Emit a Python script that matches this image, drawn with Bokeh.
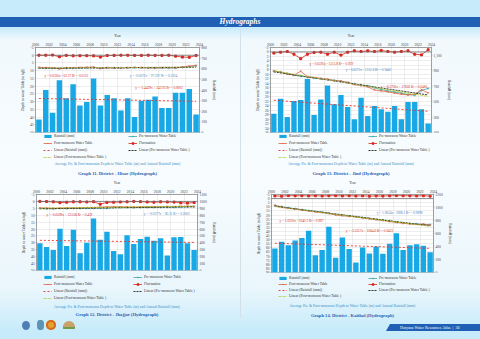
import numpy as np
from bokeh.plotting import figure
from bokeh.layouts import column, row
from bokeh.models import (Range1d, LinearAxis, FixedTicker, NumeralTickFormatter,
                          Legend, LegendItem, Label, Span, Div)
from bokeh.embed import file_html
from bokeh.resources import INLINE

# ---------------- data ----------------
years = list(range(2000, 2024))
year_ticks = [2000, 2002, 2004, 2006, 2008, 2010, 2012, 2014, 2016, 2018, 2020, 2022, 2024]

# Graph 11 - Hisar
hisar_rain = [123, 400, 185, 492, 323, 455, 255, 286, 508, 255, 354, 323,
              206, 323, 145, 298, 308, 338, 231, 231, 375, 375, 409, 169]
hisar_pre = [8.2, 8.3, 8.4, 8.6, 8.3, 8.4, 8.2, 8.1, 8.0, 8.3, 8.1, 8.2,
             8.2, 8.1, 8.0, 8.1, 8.2, 8.3, 8.2, 8.3, 8.2, 7.9, 7.4, 6.8]
hisar_post = [7.8, 8.0, 8.1, 8.8, 8.2, 8.0, 7.9, 7.8, 7.6, 8.6, 8.0, 8.1,
              8.2, 8.0, 7.9, 8.0, 8.2, 8.2, 8.1, 8.0, 8.2, 7.6, 7.0, 6.6]
hisar_fluct = [0.0, 0.0, -0.1, 1.0, 0.1, 0.4, 0.3, 0.3, 0.4, 1.2, 0.2, 0.1,
               0.0, 0.0, 0.1, 0.1, 0.0, 0.1, 0.1, 0.0, 0.6, 1.2, 1.3, 0.2]
hisar_depth_ticks = [-5, 0, 5, 10, 15, 20, 25, 30, 35, 40, 45, 50]
hisar_rain_ticks = [0, 100, 200, 300, 400, 500, 600, 700, 800]

# Graph 13 - Jind
jind_rain = [344, 537, 301, 507, 520, 793, 327, 528, 708, 464, 584, 430,
             271, 549, 314, 442, 400, 370, 442, 271, 494, 494, 400, 216]
jind_pre = [8.6, 9.0, 9.6, 10.3, 10.8, 11.2, 11.6, 12.0, 12.3, 12.7, 13.1, 13.7,
            14.3, 14.8, 15.2, 16.0, 16.8, 17.4, 17.9, 18.4, 19.0, 19.3, 17.2, 16.3]
jind_post = [8.4, 9.0, 9.8, 10.4, 8.6, 11.0, 11.4, 11.8, 12.2, 12.8, 13.0, 13.6,
             14.6, 15.0, 15.6, 17.0, 17.4, 17.8, 18.4, 18.9, 19.2, 19.0, 16.8, 18.3]
jind_fluct = [0.5, 0.1, -0.2, 1.0, 3.0, 1.0, 0.2, 0.1, 1.0, 0.1, 1.4, 0.1,
              -0.5, -0.2, -0.5, -0.2, -0.7, -0.2, 0.1, -0.2, -0.5, 1.0, 1.3, -1.0]
jind_depth_ticks = [-2, 0, 2, 4, 6, 8, 10, 12, 14, 16, 18, 20, 22, 24, 26, 28, 30, 32, 34, 36]
jind_rain_ticks = [100, 300, 500, 700, 900, 1100]

# Graph 12 - Jhajjar
jhajjar_rain = [395, 341, 295, 605, 355, 590, 250, 400, 753, 445, 560, 282,
                236, 510, 382, 455, 490, 432, 468, 218, 482, 486, 395, 295]
jhajjar_pre = [5.0, 5.2, 5.3, 5.1, 5.2, 5.0, 5.1, 4.9, 5.0, 4.8, 4.9, 4.4,
               4.3, 4.4, 4.5, 4.4, 4.4, 4.3, 4.2, 4.1, 4.2, 4.0, 3.9, 3.8]
jhajjar_post = [4.6, 4.8, 5.0, 4.9, 4.7, 4.8, 4.6, 4.5, 4.4, 4.2, 3.9, 3.8,
                3.9, 4.0, 4.1, 4.0, 3.9, 3.8, 3.9, 3.7, 3.7, 3.6, 3.5, 3.6]
jhajjar_fluct = [0.0, 0.1, 0.3, 0.9, 0.6, 0.3, 0.3, 0.4, 0.2, 2.0, 0.7, 0.6,
                 0.4, 0.3, 0.0, 0.2, 0.4, 0.6, 0.3, 0.4, 0.5, 1.0, 1.2, 0.8]
jhajjar_depth_ticks = [-5, 0, 5, 10, 15, 20, 25, 30, 35, 40, 45, 50]
jhajjar_rain_ticks = [0, 100, 200, 300, 400, 500, 600, 700, 800, 900, 1000, 1100]

# Graph 14 - Kaithal
kaithal_rain = [371, 472, 419, 494, 530, 641, 265, 347, 705, 226, 540, 361,
                154, 385, 294, 400, 289, 443, 602, 347, 419, 434, 410, 313]
kaithal_pre = [8.6, 9.8, 11.2, 12.4, 13.5, 14.6, 15.6, 16.5, 17.9, 19.4, 20.3, 21.2,
               22.0, 23.1, 24.2, 25.3, 26.2, 27.4, 28.5, 29.6, 30.3, 30.9, 31.4, 31.7]
kaithal_post = [8.0, 10.5, 11.8, 12.8, 13.9, 15.0, 16.2, 17.0, 18.2, 19.9, 20.8, 21.6,
                22.4, 23.6, 24.6, 25.7, 26.6, 27.9, 29.1, 30.1, 30.8, 31.4, 31.2, 32.2]
kaithal_fluct = [-3.3, -3.0, -3.6, -3.4, -3.5, -3.3, -3.5, -3.2, -3.4, -3.6, -3.3, -3.5,
                 -3.2, -3.4, -3.0, -3.3, -3.1, -3.4, -3.6, -3.5, -3.4, -3.3, -3.5, -3.0]
kaithal_depth_ticks = [-5, 0, 5, 10, 15, 20, 25, 30, 35, 40, 45, 50, 55, 60, 65, 70, 75, 80, 85, 90]
kaithal_rain_ticks = [0, 200, 400, 600, 800, 1000, 1200]

CAPTION = "Average Pre & Post-monsoon Depth to Water Table (m) and Annual Rainfall (mm)"
LEG_COL1 = ["Rainfall (mm)", "Post-monsoon Water Table", "Linear (Rainfall (mm))",
            "Linear (Post-monsoon Water Table )"]
LEG_COL2 = ["Pre-monsoon Water Table", "Fluctuation", "Linear (Pre-monsoon Water Table )"]

FONT = "Liberation Serif"
RED = "#d7261e"
BLUE_TXT = "#3a7fc6"
BAR = "#17a8e5"
PRE = "#3aa6a6"
POST = "#e0623f"
TPRE = "#1e1e1e"
TPOST = "#b9cc3c"
TRAIN = "#e8342c"


def style_axis(ax, ticks=None, fmt=None):
    ax.major_label_text_font = FONT
    ax.major_label_text_font_size = "3.6px"
    ax.major_label_text_color = "#444444"
    ax.axis_label_text_font = FONT
    ax.axis_label_text_font_size = "3.6px"
    ax.axis_label_text_font_style = "normal"
    ax.axis_label_text_color = "#333333"
    ax.axis_line_color = "#888888"
    ax.axis_line_width = 0.6
    ax.major_tick_line_color = "#888888"
    ax.major_tick_line_width = 0.5
    ax.major_tick_out = 1
    ax.major_tick_in = 0
    ax.minor_tick_line_color = None
    ax.major_label_standoff = 1
    ax.axis_label_standoff = 2
    if ticks is not None:
        ax.ticker = FixedTicker(ticks=ticks)
    if fmt is not None:
        ax.formatter = fmt


def add_series(p, xc, rain, pre, post, fluct, rain_base):
    """Draws the series; returns renderers keyed by legend label."""
    def trend(vals):
        k, b = np.polyfit(xc, np.array(vals, dtype=float), 1)
        return [xc[0], xc[-1]], [k * xc[0] + b, k * xc[-1] + b]

    r = {}
    r["Rainfall (mm)"] = [p.vbar(x=xc, top=rain, bottom=rain_base,
                                 width=0.8, y_range_name="rain",
                                 fill_color=BAR, line_color=None)]
    tx, ty = trend(rain)
    r["Linear (Rainfall (mm))"] = [p.line(tx, ty, y_range_name="rain", line_color=TRAIN,
                                          line_width=0.9, line_dash="2 2")]
    r["Pre-monsoon Water Table"] = [
        p.line(xc, pre, line_color=PRE, line_width=0.8),
        p.scatter(xc, pre, marker="cross", size=2.6, line_color=PRE, line_width=0.6)]
    r["Post-monsoon Water Table"] = [
        p.line(xc, post, line_color=POST, line_width=0.8),
        p.scatter(xc, post, marker="x", size=2.4, line_color=POST, line_width=0.6)]
    tx, ty = trend(pre)
    r["Linear (Pre-monsoon Water Table )"] = [p.line(tx, ty, line_color=TPRE, line_width=0.9,
                                                     line_dash="2 1")]
    tx, ty = trend(post)
    r["Linear (Post-monsoon Water Table )"] = [p.line(tx, ty, line_color=TPOST, line_width=0.8,
                                                      line_dash="3 1")]
    r["Fluctuation"] = [
        p.line(xc, fluct, line_color=RED, line_width=0.8),
        p.scatter(xc, fluct, marker="square", size=2.0, fill_color=RED, line_color=RED)]
    return r


def make_chart(rain, pre, post, fluct, depth_ticks, rain_ticks, rain_range,
               eqs, height, mb, rain_fmt=None, sep=False):
    xc = np.array(years, dtype=float) + 0.5
    p = figure(width=240, height=height, output_backend="svg", toolbar_location=None,
               x_range=Range1d(2000, 2024),
               y_range=Range1d(depth_ticks[-1], depth_ticks[0]),
               x_axis_location="above",
               min_border_left=mb[0], min_border_right=mb[1],
               min_border_top=mb[2], min_border_bottom=mb[3])
    p.extra_y_ranges = {"rain": Range1d(rain_range[0], rain_range[1])}
    p.background_fill_color = "white"
    p.border_fill_alpha = 0
    p.outline_line_color = "#9a9a9a"
    p.outline_line_width = 0.6
    p.xgrid.ticker = FixedTicker(ticks=year_ticks)
    p.ygrid.ticker = FixedTicker(ticks=depth_ticks)
    p.grid.grid_line_color = "#dcdcdc"
    p.grid.grid_line_width = 0.5
    if sep:
        p.styles = {"box-shadow": "inset 1px 0 0 #d3e0e8"}

    style_axis(p.xaxis[0], year_ticks)
    p.xaxis[0].axis_label = "Year"
    style_axis(p.yaxis[0], depth_ticks)
    p.yaxis[0].axis_label = "Depth to water Table (m bgl)"
    rax = LinearAxis(y_range_name="rain", axis_label="Rainfall (mm)")
    style_axis(rax, rain_ticks, rain_fmt)
    p.add_layout(rax, "right")

    p.add_layout(Span(location=0, dimension="width", line_color="#6f6f6f", line_width=0.8))
    add_series(p, xc, rain, pre, post, fluct, rain_range[0])

    for text, x, y, col, rng in eqs:
        kw = {"y_range_name": "rain"} if rng else {}
        p.add_layout(Label(x=x, y=y, text=text, text_font=FONT, text_font_size="3.4px",
                           text_color=col, text_baseline="middle", **kw))
    return p


def make_key(graph_title, height, mb, leg_top, spacing, cap_y, title_y, col_x, sep=False):
    """Legend + captions strip below a chart (panel pixel coordinates, y from top).
    Its frame is aligned by the layout with the chart frame above it."""
    fl, fr = mb[0], 240 - mb[1]
    k = figure(width=240, height=height, output_backend="svg", toolbar_location=None,
               x_range=Range1d(fl, fr), y_range=Range1d(height, 0),
               x_axis_type=None, y_axis_type=None,
               min_border_left=mb[0], min_border_right=mb[1],
               min_border_top=0, min_border_bottom=0)
    k.grid.visible = False
    k.outline_line_color = None
    k.background_fill_alpha = 0
    k.border_fill_alpha = 0
    if sep:
        k.styles = {"box-shadow": "inset 1px 0 0 #d3e0e8"}
    k.extra_y_ranges = {"rain": Range1d(0, 1)}
    # legend-key renderers: a stub series placed outside the visible range,
    # only their styles show up as legend glyphs
    xd = np.array([-60.0, -59.0])
    r = add_series(k, xd, [0, 0], [0, 0], [0, 0], [0, 0], 0)

    for labels, x in ((LEG_COL1, col_x[0]), (LEG_COL2, col_x[1])):
        n = len(labels)
        leg_h = n * 4 + (n - 1) * spacing
        leg = Legend(items=[LegendItem(label=lb, renderers=r[lb]) for lb in labels],
                     location=(x - fl, height - leg_top - leg_h), orientation="vertical",
                     label_text_font=FONT, label_text_font_size="3.6px",
                     label_text_color="#333333",
                     glyph_width=9, glyph_height=4, label_height=4, label_standoff=2,
                     spacing=spacing, padding=0, margin=0,
                     border_line_alpha=0, background_fill_alpha=0)
        k.add_layout(leg)
    xm = (fl + fr) / 2
    k.add_layout(Label(x=xm, y=cap_y, text=CAPTION, text_align="center",
                       text_baseline="middle", text_font=FONT, text_font_size="3.8px",
                       text_color="#3b8fc6"))
    k.add_layout(Label(x=xm, y=title_y, text=graph_title, text_align="center",
                       text_baseline="middle", text_font=FONT, text_font_size="4.6px",
                       text_font_style="bold", text_color="#2a63b2"))
    return k


mb11 = (35, 41, 15, 1)
p11 = make_chart(hisar_rain, hisar_pre, hisar_post, hisar_fluct, hisar_depth_ticks,
                 hisar_rain_ticks, (0, 800),
                 [("y = 0.0316x - 62.37  R² = 0.0133", 2001.3, 13.3, RED, False),
                  ("y = -0.0072x + 97.207  R² = 0.2324", 2013.8, 13.3, BLUE_TXT, False),
                  ("y = -5.4429x + 343.93  R² = 0.0003", 2014.6, 423, RED, True)],
                 103, mb11)
k11 = make_key("Graph 11. District - Hisar (Hydrograph)", 44, mb11, 1, 3, 30.3, 39.7, (43, 128))

mb13 = (30, 49, 15, 1)
p13 = make_chart(jind_rain, jind_pre, jind_post, jind_fluct, jind_depth_ticks,
                 jind_rain_ticks, (100, 1200),
                 [("y = 0.6595x - 1315.8  R² = 0.929", 2005.8, 5.5, RED, False),
                  ("y = 0.6575x - 1312.8  R² = 0.9460", 2011.2, 8.0, BLUE_TXT, False),
                  ("y = -8.3702x + 17818  R² = 0.0480", 2016.4, 690, RED, True)],
                 103, mb13, NumeralTickFormatter(format="0,0"), sep=True)
k13 = make_key("Graph 13. District - Jind (Hydrograph)", 44, mb13, 1, 3, 30.3, 39.7, (38, 128),
               sep=True)

mb12 = (36, 43, 13, 1)
p12 = make_chart(jhajjar_rain, jhajjar_pre, jhajjar_post, jhajjar_fluct, jhajjar_depth_ticks,
                 jhajjar_rain_ticks, (0, 1100),
                 [("y = -0.0599x + 123.06  R² = 0.459", 2001.5, 9.5, RED, False),
                  ("y = -0.0377x + 83.21  R² = 0.2602", 2016.0, 8.8, BLUE_TXT, False)],
                 94, mb12)
k12 = make_key("Graph 12. District - Jhajjar (Hydrograph)", 47, mb12, 4, 3, 35, 43.3, (43, 133))

mb14 = (31, 47, 13, 1)
p14 = make_chart(kaithal_rain, kaithal_pre, kaithal_post, kaithal_fluct, kaithal_depth_ticks,
                 kaithal_rain_ticks, (0, 1200),
                 [("y = 1.0250x - 2040.2  R² = 0.987", 2001.2, 27.0, RED, False),
                  ("y = 1.0634x - 2096.1  R² = 0.9898", 2015.6, 18.0, BLUE_TXT, False),
                  ("y = -3.3317x + 1064.6  R² = 0.0433", 2011.0, 640, RED, True)],
                 96, mb14, sep=True)
k14 = make_key("Graph 14. District - Kaithal (Hydrograph)", 45, mb14, 3, 2, 32, 42, (38, 128),
               sep=True)

header = Div(text=(
    '<div style="position:relative;width:480px;height:30px;">'
    '<div style="position:absolute;top:17px;left:0;width:480px;height:10px;background:#1f5fb4;'
    'color:white;text-align:center;line-height:10px;font-family:\'Liberation Serif\';'
    'font-size:7.5px;font-weight:bold;font-style:italic;">Hydrographs</div></div>'),
    width=480, height=30, margin=0)

footer = Div(text=(
    '<div style="position:relative;width:480px;height:21px;">'
    '<div style="position:absolute;left:22px;top:3px;width:8px;height:9px;border-radius:50%;background:#4d7fb5;"></div>'
    '<div style="position:absolute;left:37px;top:2px;width:7px;height:10px;border-radius:40%;background:#5a95b8;"></div>'
    '<div style="position:absolute;left:46px;top:2px;width:10px;height:10px;border-radius:50%;background:#e5a02e;'
    'box-shadow:inset 0 0 0 2px #d46a1e;"></div>'
    '<div style="position:absolute;left:63px;top:3px;width:12px;height:8px;border-radius:6px 6px 1px 1px;'
    'background:#c9a16a;box-shadow:inset 0 -2px 0 #6e9e4a;"></div>'
    '<div style="position:absolute;left:386px;top:6px;width:94px;height:7px;background:#1f5fb4;'
    'clip-path:polygon(4px 0,100% 0,100% 100%,0 100%);color:white;font-family:\'Liberation Serif\';'
    'font-size:4px;line-height:7px;padding-left:14px;box-sizing:border-box;">'
    'Haryana Water Resources Atlas &nbsp;|&nbsp; 30</div></div>'),
    width=480, height=21, margin=0)

layout = column(header,
                row(column(p11, k11), column(p13, k13)),
                row(column(p12, k12), column(p14, k14)),
                footer,
                styles={"background": "linear-gradient(to bottom, #c8ebfb 0px, #c8ebfb 28px, "
                                      "#f1f9fd 40px, #f8fcfe 180px, #e9f6fc 290px, #c8ebfb 330px)"})

open("out.html", "w").write(file_html(layout, INLINE))
